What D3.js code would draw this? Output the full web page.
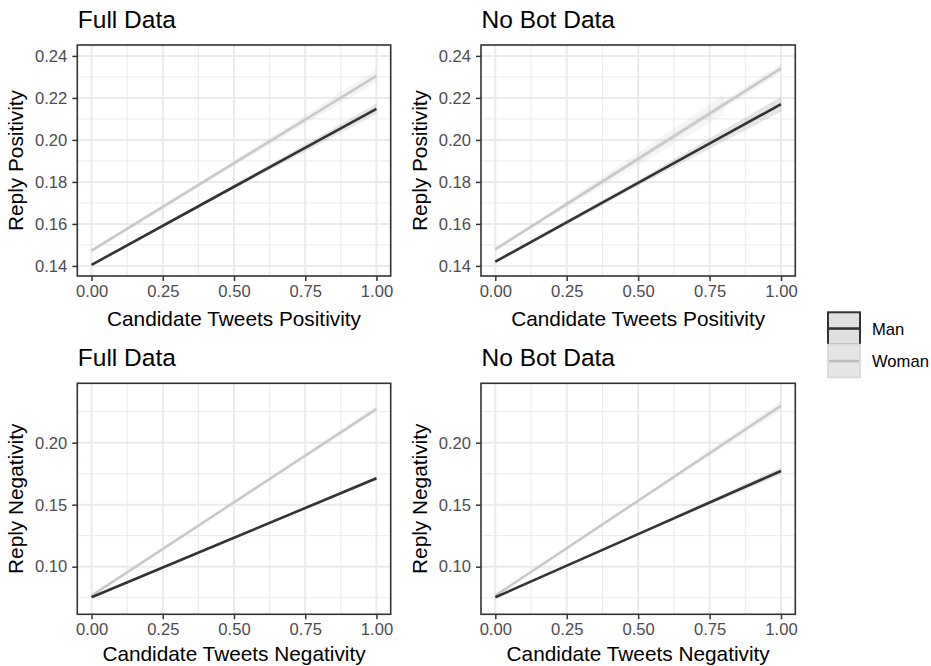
<!DOCTYPE html>
<html>
<head>
<meta charset="utf-8">
<script src="https://cdn.jsdelivr.net/npm/d3@7"></script>
<style>
  html, body { margin: 0; padding: 0; background: #ffffff; }
  svg { display: block; font-family: "Liberation Sans", Arial, Helvetica, sans-serif; }
</style>
</head>
<body>
<svg id="chart" width="931" height="666"></svg>
<script>
// Fitted values of reply sentiment at candidate-tweet sentiment x = 0, 0.5, 1
const fitX = [0, 0.5, 1];

const posFullMan    = [0.1405, 0.1777, 0.2148];
const posFullWoman  = [0.1473, 0.1889, 0.2305];
const posNoBotMan   = [0.1420, 0.1795, 0.2170];
const posNoBotWoman = [0.1479, 0.1910, 0.2341];
const negFullMan    = [0.0753, 0.1233, 0.1713];
const negFullWoman  = [0.0766, 0.1519, 0.2272];
const negNoBotMan   = [0.0753, 0.1263, 0.1772];
const negNoBotWoman = [0.0766, 0.1532, 0.2298];

// Half-width of the confidence band at the same x positions
const posFullManSE    = [0.0006, 0.0009, 0.0025];
const posFullWomanSE  = [0.0008, 0.0012, 0.0030];
const posNoBotManSE   = [0.0008, 0.0013, 0.0036];
const posNoBotWomanSE = [0.0008, 0.0012, 0.0022];
const negFullManSE    = [0.0005, 0.0007, 0.0017];
const negFullWomanSE  = [0.0005, 0.0010, 0.0025];
const negNoBotManSE   = [0.0005, 0.0009, 0.0027];
const negNoBotWomanSE = [0.0005, 0.0012, 0.0035];

// Extra, wider band on the women's fit in the no-bot positivity model
const wideBandX   = [0.2, 0.5, 0.8];
const wideBandMid = [0.1651, 0.1910, 0.2169];
const wideBandSE  = [0.0012, 0.0030, 0.0050];

const xTicks = [0, 0.25, 0.5, 0.75, 1];
const xMinor = [0.125, 0.375, 0.625, 0.875];
const posTicks = [0.14, 0.16, 0.18, 0.20, 0.22, 0.24];
const posMinor = [0.15, 0.17, 0.19, 0.21, 0.23];
const negTicks = [0.10, 0.15, 0.20];
const negMinor = [0.075, 0.125, 0.175, 0.225];

const groups = ["Man", "Woman"];
const lineColor = { Man: "#333333", Woman: "#c9c9c9" };
const bandOpacity = { Man: 0.25, Woman: 0.1 };

const panels = [
  { title: "Full Data",   xLab: "Candidate Tweets Positivity", yLab: "Reply Positivity",
    x0: 77.3, x1: 390.7, y0: 45, y1: 276, yDom: [0.1352, 0.2452],
    yTicks: posTicks, yMinor: posMinor, fmt: d3.format(".2f"),
    series: { Man: [posFullMan, posFullManSE], Woman: [posFullWoman, posFullWomanSE] } },
  { title: "No Bot Data", xLab: "Candidate Tweets Positivity", yLab: "Reply Positivity",
    x0: 481, x1: 795.3, y0: 45, y1: 276, yDom: [0.1352, 0.2452],
    yTicks: posTicks, yMinor: posMinor, fmt: d3.format(".2f"), wide: true,
    series: { Man: [posNoBotMan, posNoBotManSE], Woman: [posNoBotWoman, posNoBotWomanSE] } },
  { title: "Full Data",   xLab: "Candidate Tweets Negativity", yLab: "Reply Negativity",
    x0: 77.3, x1: 390.7, y0: 383.3, y1: 614.3, yDom: [0.0616, 0.2479],
    yTicks: negTicks, yMinor: negMinor, fmt: d3.format(".2f"),
    series: { Man: [negFullMan, negFullManSE], Woman: [negFullWoman, negFullWomanSE] } },
  { title: "No Bot Data", xLab: "Candidate Tweets Negativity", yLab: "Reply Negativity",
    x0: 481, x1: 795.3, y0: 383.3, y1: 614.3, yDom: [0.0616, 0.2479],
    yTicks: negTicks, yMinor: negMinor, fmt: d3.format(".2f"),
    series: { Man: [negNoBotMan, negNoBotManSE], Woman: [negNoBotWoman, negNoBotWomanSE] } }
];

const svg = d3.select("#chart");

panels.forEach((p, i) => {
  const x = d3.scaleLinear().domain([-0.05, 1.05]).range([p.x0, p.x1]);
  const y = d3.scaleLinear().domain(p.yDom).range([p.y1, p.y0]);
  const g = svg.append("g").attr("class", "panel-" + i);

  // background grid
  const grid = g.append("g");
  grid.selectAll(".vmin").data(xMinor).join("line")
    .attr("x1", d => x(d)).attr("x2", d => x(d)).attr("y1", p.y0).attr("y2", p.y1)
    .attr("stroke", "#ebebeb").attr("stroke-width", 1);
  grid.selectAll(".hmin").data(p.yMinor).join("line")
    .attr("y1", d => y(d)).attr("y2", d => y(d)).attr("x1", p.x0).attr("x2", p.x1)
    .attr("stroke", "#ebebeb").attr("stroke-width", 1);
  grid.selectAll(".vmaj").data(xTicks).join("line")
    .attr("x1", d => x(d)).attr("x2", d => x(d)).attr("y1", p.y0).attr("y2", p.y1)
    .attr("stroke", "#ebebeb").attr("stroke-width", 2);
  grid.selectAll(".hmaj").data(p.yTicks).join("line")
    .attr("y1", d => y(d)).attr("y2", d => y(d)).attr("x1", p.x0).attr("x2", p.x1)
    .attr("stroke", "#ebebeb").attr("stroke-width", 2);

  // confidence bands
  const band = d3.area()
    .x(d => x(d.x)).y0(d => y(d.v - d.se)).y1(d => y(d.v + d.se));
  if (p.wide) {
    const wd = wideBandX.map((v, k) => ({ x: v, v: wideBandMid[k], se: wideBandSE[k] }));
    g.append("path").attr("d", band(wd)).attr("fill", "#999999").attr("fill-opacity", 0.09);
  }
  groups.forEach(grp => {
    const [vals, se] = p.series[grp];
    const data = fitX.map((v, k) => ({ x: v, v: vals[k], se: se[k] }));
    g.append("path").attr("d", band(data)).attr("fill", "#999999")
      .attr("fill-opacity", bandOpacity[grp]);
  });

  // fitted lines
  const line = d3.line().x(d => x(d.x)).y(d => y(d.v));
  ["Woman", "Man"].forEach(grp => {
    const vals = p.series[grp][0];
    const data = fitX.map((v, k) => ({ x: v, v: vals[k] }));
    g.append("path").attr("d", line(data)).attr("fill", "none")
      .attr("stroke", lineColor[grp]).attr("stroke-width", 2.6);
  });

  // panel border
  g.append("rect").attr("x", p.x0).attr("y", p.y0)
    .attr("width", p.x1 - p.x0).attr("height", p.y1 - p.y0)
    .attr("fill", "none").attr("stroke", "#333333").attr("stroke-width", 1.6);

  // axes
  const xAxis = d3.axisBottom(x).tickValues(xTicks).tickFormat(d3.format(".2f"))
    .tickSize(5).tickPadding(4);
  const xa = g.append("g").attr("transform", `translate(0,${p.y1})`).call(xAxis);
  const yAxis = d3.axisLeft(y).tickValues(p.yTicks).tickFormat(p.fmt)
    .tickSize(5).tickPadding(5);
  const ya = g.append("g").attr("transform", `translate(${p.x0},0)`).call(yAxis);
  [xa, ya].forEach(a => {
    a.select(".domain").remove();
    a.selectAll(".tick line").attr("stroke", "#333333").attr("stroke-width", 1.5);
    a.selectAll(".tick text").attr("fill", "#4d4d4d")
      .style("font-size", "16.6px").style("font-family", "Liberation Sans, Arial, sans-serif");
  });

  // titles
  g.append("text").attr("x", p.x0 + 0.5).attr("y", p.y0 - 17)
    .attr("fill", "#000").style("font-size", "24.5px").text(p.title);
  g.append("text").attr("x", (p.x0 + p.x1) / 2).attr("y", p.y1 + (i < 2 ? 50 : 47))
    .attr("text-anchor", "middle").attr("fill", "#000").style("font-size", "20.8px").text(p.xLab);
  g.append("text")
    .attr("transform", `translate(${p.x0 - 54},${(p.y0 + p.y1) / 2}) rotate(-90)`)
    .attr("text-anchor", "middle").attr("fill", "#000").style("font-size", "20.8px").text(p.yLab);
});

// legend
const legend = svg.append("g").attr("transform", "translate(828,312.3)");
const keySize = 32.5;
groups.forEach((grp, k) => {
  const ky = k * keySize;
  legend.append("rect").attr("x", 0).attr("y", ky).attr("width", 32).attr("height", keySize)
    .attr("fill", grp === "Man" ? "#e0e0e0" : "#e6e6e6")
    .attr("stroke", grp === "Man" ? "#333333" : "#dcdcdc").attr("stroke-width", 2);
  legend.append("line").attr("x1", 1).attr("x2", 31)
    .attr("y1", ky + keySize / 2).attr("y2", ky + keySize / 2)
    .attr("stroke", grp === "Man" ? "#333333" : "#bdbdbd").attr("stroke-width", 2.6);
  legend.append("text").attr("x", 44).attr("y", ky + keySize / 2 + 6)
    .attr("fill", "#000").style("font-size", "16.6px").text(grp);
});
</script>
</body>
</html>
